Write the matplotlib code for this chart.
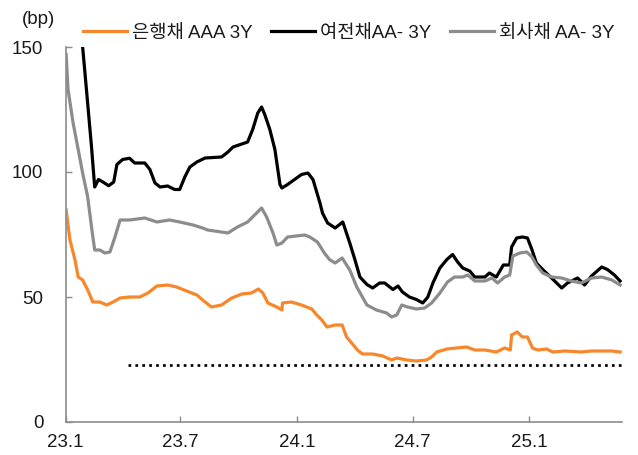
import matplotlib
matplotlib.use("Agg")
import matplotlib.pyplot as plt
import pandas as pd

plt.rcParams['font.family'] = ['Liberation Sans', 'Noto Sans CJK KR', 'DejaVu Sans']

# ---- data ----
bank_dates = ["2023-01-02","2023-01-08","2023-01-16","2023-01-21","2023-01-28","2023-02-05","2023-02-13",
    "2023-02-24","2023-03-07","2023-03-17","2023-03-28","2023-04-12","2023-04-28","2023-05-11","2023-05-25",
    "2023-06-11","2023-06-25","2023-07-11","2023-07-27","2023-08-05","2023-08-19","2023-09-04","2023-09-20",
    "2023-10-06","2023-10-21","2023-11-01","2023-11-08","2023-11-16","2023-11-30","2023-12-08","2023-12-09",
    "2023-12-23","2024-01-08","2024-01-24","2024-02-01","2024-02-09","2024-02-17","2024-03-01","2024-03-12",
    "2024-03-19","2024-03-27","2024-04-05","2024-04-13","2024-04-29","2024-05-15","2024-05-29","2024-06-06",
    "2024-06-22","2024-07-07","2024-07-23","2024-07-31","2024-08-08","2024-08-24","2024-09-08","2024-09-24",
    "2024-10-07","2024-10-23","2024-11-10","2024-11-23","2024-12-02","2024-12-04","2024-12-13","2024-12-21",
    "2024-12-29","2025-01-06","2025-01-14","2025-01-28","2025-02-07","2025-02-26","2025-03-24","2025-04-09",
    "2025-04-25","2025-05-11","2025-05-24"]
bank_vals = [84.8,72.8,64.8,58.0,56.8,52.8,48.0,
    48.0,46.8,48.0,49.6,50.0,50.0,51.6,54.4,
    54.8,54.0,52.4,50.8,48.8,46.0,46.8,49.6,
    51.2,51.6,53.2,51.6,47.6,46.0,44.8,47.6,
    48.0,46.8,45.2,42.8,40.8,38.0,38.8,38.8,
    34.0,31.6,28.8,27.2,27.2,26.4,24.8,25.6,
    24.8,24.4,24.8,26.0,28.0,29.2,29.6,30.0,
    28.8,28.8,28.0,29.6,28.8,34.8,36.0,34.0,
    34.0,29.6,28.8,29.2,28.0,28.4,28.0,28.4,
    28.4,28.4,28.0]

card_dates = ["2023-01-02","2023-01-24","2023-01-28","2023-02-03","2023-02-11","2023-02-16","2023-02-22",
    "2023-03-01","2023-03-10","2023-03-18","2023-03-23","2023-04-01","2023-04-12","2023-04-20","2023-05-06",
    "2023-05-14","2023-05-22","2023-05-30","2023-06-11","2023-06-22","2023-06-30","2023-07-08","2023-07-16",
    "2023-07-27","2023-08-09","2023-09-04","2023-09-14","2023-09-22","2023-10-15","2023-10-23","2023-10-31",
    "2023-11-06","2023-11-11","2023-11-19","2023-11-27","2023-12-05","2023-12-08","2023-12-17","2023-12-28",
    "2024-01-08","2024-01-18","2024-01-26","2024-02-06","2024-02-10","2024-02-18","2024-03-01","2024-03-13",
    "2024-03-24","2024-04-01","2024-04-09","2024-04-20","2024-04-29","2024-05-10","2024-05-18","2024-05-31",
    "2024-06-08","2024-06-15","2024-06-26","2024-07-07","2024-07-17","2024-07-25","2024-08-02","2024-08-13",
    "2024-08-24","2024-09-02","2024-09-10","2024-09-18","2024-09-29","2024-10-07","2024-10-23","2024-10-30",
    "2024-11-10","2024-11-21","2024-12-01","2024-12-04","2024-12-12","2024-12-21","2024-12-29","2025-01-05",
    "2025-01-12","2025-01-22","2025-02-05","2025-02-21","2025-03-02","2025-03-18","2025-03-29","2025-04-09",
    "2025-04-25","2025-05-04","2025-05-15","2025-05-24"]
card_vals = [175.0,160.0,150.0,133.0,110.0,94.0,97.0,
    96.0,94.5,96.0,103.0,105.0,105.5,103.6,103.6,
    101.0,95.6,94.0,94.4,93.0,93.0,98.0,102.0,
    104.0,105.6,106.0,108.0,110.0,112.0,117.0,123.6,
    126.0,123.0,117.0,109.0,95.0,93.6,95.0,97.0,
    99.0,99.6,97.0,87.6,83.6,79.6,77.6,80.0,
    71.6,65.0,58.0,55.0,53.6,55.6,55.6,53.0,
    54.4,52.0,50.0,49.0,47.6,50.0,55.6,61.6,
    65.0,67.0,64.0,61.6,60.4,58.0,58.0,59.6,
    58.0,62.8,62.8,70.0,73.6,74.0,73.6,69.0,
    63.6,61.0,57.6,53.6,55.6,57.6,54.8,58.4,
    62.0,61.0,58.8,56.4]

corp_dates = ["2023-01-02","2023-01-05","2023-01-13","2023-01-21","2023-01-28","2023-02-05","2023-02-11",
    "2023-02-16","2023-02-24","2023-03-04","2023-03-12","2023-03-20","2023-03-28","2023-04-12","2023-05-06",
    "2023-05-25","2023-06-14","2023-06-30","2023-07-21","2023-08-05","2023-08-13","2023-09-14","2023-09-29",
    "2023-10-15","2023-10-26","2023-11-06","2023-11-14","2023-11-24","2023-11-30","2023-12-08","2023-12-17",
    "2024-01-13","2024-01-21","2024-02-02","2024-02-13","2024-02-21","2024-03-01","2024-03-12","2024-03-24",
    "2024-04-04","2024-04-20","2024-05-05","2024-05-21","2024-05-29","2024-06-06","2024-06-14","2024-06-23",
    "2024-07-07","2024-07-20","2024-07-31","2024-08-13","2024-08-25","2024-09-05","2024-09-18","2024-09-26",
    "2024-10-07","2024-10-23","2024-11-03","2024-11-12","2024-11-23","2024-12-01","2024-12-06","2024-12-17",
    "2024-12-28","2025-01-05","2025-01-12","2025-01-22","2025-02-05","2025-02-21","2025-03-08","2025-03-24",
    "2025-04-09","2025-04-25","2025-05-11","2025-05-24"]
corp_vals = [147.0,133.0,119.6,109.0,99.6,90.0,78.0,
    68.8,68.8,67.6,68.0,74.0,80.8,80.8,81.6,
    80.0,80.8,80.0,78.8,77.6,76.8,75.6,78.0,
    80.0,82.8,85.6,82.0,75.6,70.8,71.6,74.0,
    74.8,74.0,72.0,67.6,65.0,63.6,65.6,60.8,
    54.0,46.8,44.8,43.6,42.0,42.8,46.8,46.0,
    45.2,45.6,47.6,51.6,56.0,58.0,58.0,58.8,
    56.4,56.4,57.6,55.6,58.0,58.8,66.4,67.6,
    68.0,66.0,62.8,59.6,58.0,57.6,56.4,55.6,
    57.6,58.0,56.8,54.8]

ref_dates = ["2023-04-09", "2025-05-27"]
ref_vals = [23.0, 23.0]

series_names = ["은행채 AAA 3Y", "여전채AA- 3Y", "회사채 AA- 3Y"]
series_colors = ["#F7872A", "#000000", "#8C8C8C"]

xtick_dates = ["2023-01-01", "2023-07-01", "2024-01-01", "2024-07-01", "2025-01-01"]
xtick_labels = ["23.1", "23.7", "24.1", "24.7", "25.1"]
yticks = [0, 50, 100, 150]

# ---- plot ----
fig = plt.figure(figsize=(6.38, 4.55), dpi=100)
ax = fig.add_axes([65.5/638, 1-422/455, (622-65.5)/638, (422-47)/455])

data = [(bank_dates, bank_vals), (card_dates, card_vals), (corp_dates, corp_vals)]
handles = []
for (d, v), name, c in zip(data, series_names, series_colors):
    h, = ax.plot(pd.to_datetime(d), v, color=c, lw=2.3, label=name, solid_joinstyle='round')
    handles.append(h)

ax.plot(pd.to_datetime(ref_dates), ref_vals, color='black', lw=1.95,
        linestyle=(0, (1.0, 1.55)), dash_capstyle='butt')

ax.set_ylim(0, 150)
ax.set_xlim(pd.Timestamp("2023-01-01"), pd.Timestamp("2025-05-27"))
ax.set_yticks(yticks)
ax.set_yticklabels([str(t) for t in yticks])
ax.set_xticks(pd.to_datetime(xtick_dates))
ax.set_xticklabels(xtick_labels)

for s in ['top', 'right']:
    ax.spines[s].set_visible(False)
for s in ['left', 'bottom']:
    ax.spines[s].set_color('#8C8C8C')
    ax.spines[s].set_linewidth(1.2)

ax.tick_params(axis='both', direction='in', length=4, width=1, color='#8C8C8C',
               labelcolor='#1a1a1a', labelsize=13.5)
ax.tick_params(axis='y', pad=16)
ax.tick_params(axis='x', pad=8.5)

fig.text(22/638, 1-20/455, "(bp)", ha='left', va='center', fontsize=13.5, color='#1a1a1a')

leg = fig.legend(handles=handles, loc='center left', bbox_to_anchor=(83/638, 1-33/455),
                 ncol=3, frameon=False, fontsize=13.5, handlelength=2.35, handletextpad=0.25,
                 columnspacing=1.0, borderpad=0, borderaxespad=0)
for t in leg.get_texts():
    t.set_color('#1a1a1a')

fig.savefig("out.png", dpi=100)
